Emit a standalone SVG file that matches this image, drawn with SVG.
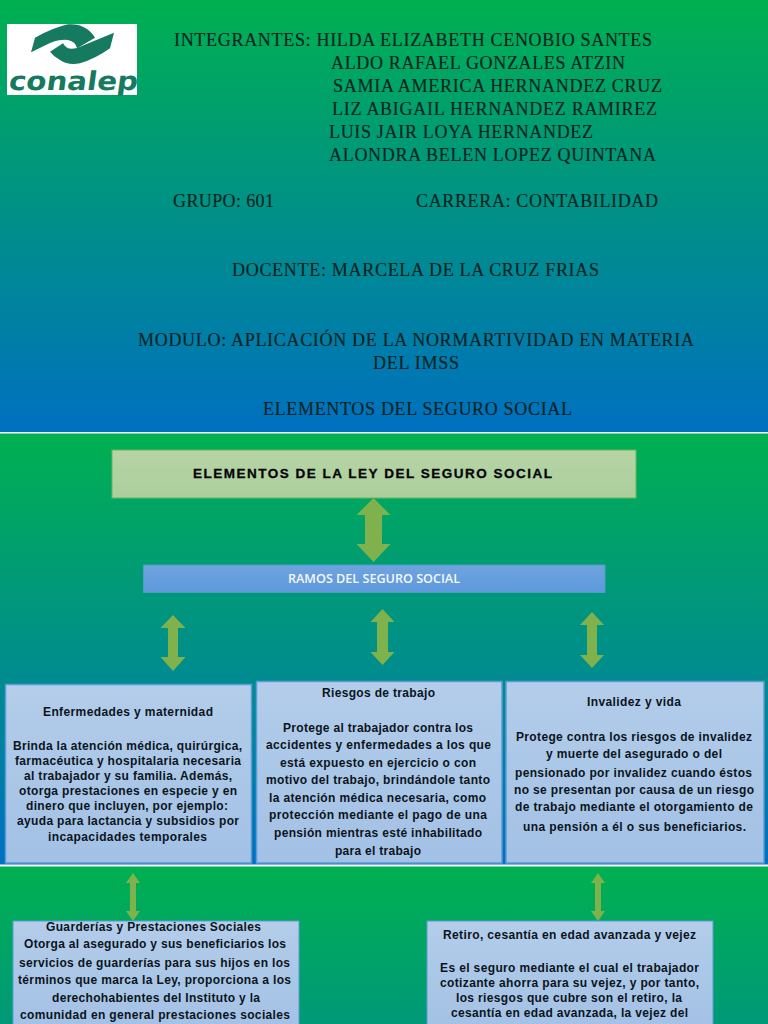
<svg xmlns="http://www.w3.org/2000/svg" width="768" height="1024" viewBox="0 0 768 1024">
<style>
.h{font-family:"Liberation Serif",serif;font-size:18px;fill:#03241f;stroke:#03241f;stroke-width:.15}
.b{font-family:"Liberation Sans",Arial,sans-serif;font-size:12px;font-weight:700;fill:#0b1420}
.box{fill:url(#boxFill);stroke:#5b9bd5;stroke-width:1.5}
.arrow{fill:#7fb24d}
</style>
<defs>
<linearGradient id="slide" x1="0" y1="0" x2="0" y2="1"><stop offset="0" stop-color="#00b050"/><stop offset="1" stop-color="#0070c0"/></linearGradient>
<linearGradient id="boxFill" x1="0" y1="0" x2="0" y2="1"><stop offset="0" stop-color="#b3cdea"/><stop offset="1" stop-color="#a3c1e5"/></linearGradient>
<linearGradient id="green" x1="0" y1="0" x2="0" y2="1"><stop offset="0" stop-color="#b7d4a6"/><stop offset="1" stop-color="#acce9c"/></linearGradient>
<linearGradient id="blue" x1="0" y1="0" x2="0" y2="1"><stop offset="0" stop-color="#6fa3de"/><stop offset="1" stop-color="#5e99dc"/></linearGradient>
</defs>
<rect width="768" height="1024" fill="#fff"/>
<rect x="0" y="0" width="768" height="432" fill="url(#slide)"/>
<rect x="0" y="433.500" width="768" height="431" fill="url(#slide)"/>
<rect x="0" y="866.500" width="768" height="432" fill="url(#slide)"/>

<g id="logo">
<rect x="7" y="24" width="130" height="71" fill="#fff"/>
<path d="M31 52.300 L35 37.700 Q52 28 68 24.300 Q86 23 95 37.700 L77 48.300 Q76 42 68 40 Q60 39 50 43Z" fill="#157a60"/>
<path d="M114 32.700 L110 48.300 Q95 59 80 63.300 Q68 65.500 60 60 Q54 57 50 51.700 L63 43.300 Q65 47 68 48.300 Q74 49.500 80 46.700Z" fill="#157a60"/>
<text transform="translate(8 90) skewX(-8)" font-family="'DejaVu Sans',sans-serif" font-size="26" font-weight="700" fill="#157a60" textLength="129" lengthAdjust="spacingAndGlyphs">conalep</text>
</g>

<g id="portada">
<text class="h" x="174" y="46" textLength="478">INTEGRANTES: HILDA ELIZABETH CENOBIO SANTES</text>
<text class="h" x="331" y="69" textLength="294">ALDO RAFAEL GONZALES ATZIN</text>
<text class="h" x="333" y="92" textLength="329">SAMIA AMERICA HERNANDEZ CRUZ</text>
<text class="h" x="332" y="115" textLength="325">LIZ ABIGAIL HERNANDEZ RAMIREZ</text>
<text class="h" x="329" y="138" textLength="264">LUIS JAIR LOYA HERNANDEZ</text>
<text class="h" x="329" y="161" textLength="327">ALONDRA BELEN LOPEZ QUINTANA</text>
<text class="h" x="173" y="207" textLength="101">GRUPO: 601</text>
<text class="h" x="416" y="207" textLength="242">CARRERA: CONTABILIDAD</text>
<text class="h" x="232" y="276" textLength="367">DOCENTE: MARCELA DE LA CRUZ FRIAS</text>
<text class="h" x="138" y="346" textLength="556">MODULO: APLICACIÓN DE LA NORMARTIVIDAD EN MATERIA</text>
<text class="h" x="373" y="369" textLength="86">DEL IMSS</text>
<text class="h" x="263" y="415" textLength="309">ELEMENTOS DEL SEGURO SOCIAL</text>
</g>

<g id="connectors">
<path class="arrow" d="M373.500 498 L390.500 515 H382 V544 H390.500 L373.500 562 L356.500 544 H365 V515 H356.500Z"/>
<path class="arrow" d="M173 615 L185.500 628 H178 V657 H185.500 L173 671 L160.500 657 H168 V628 H160.500Z"/>
<path class="arrow" d="M382.500 609 L394.500 622 H388 V652 H394.500 L382.500 665 L370.500 652 H377 V622 H370.500Z"/>
<path class="arrow" d="M592 612 L604 625 H597 V655 H604 L592 668 L580 655 H587 V625 H580Z"/>
<path class="arrow" d="M133 873 L140 883 H136 V911 H140 L133 921 L126 911 H130 V883 H126Z"/>
<path class="arrow" d="M598 873 L605 883 H601 V911 H605 L598 921 L591 911 H595 V883 H591Z"/>
</g>

<g id="titulo">
<rect x="112" y="450" width="524" height="48" fill="url(#green)" stroke="#6fb45c" stroke-width="1"/>
<text x="193" y="478" font-family="'Liberation Sans',Arial,sans-serif" font-size="13.500px" font-weight="700" fill="#050505" stroke="#050505" stroke-width=".3" textLength="359">ELEMENTOS DE LA LEY DEL SEGURO SOCIAL</text>
</g>

<g id="ramos">
<rect x="143.500" y="565" width="461.500" height="27.500" fill="url(#blue)" stroke="#4ba0bf" stroke-width="1"/>
<text x="288" y="583" font-family="'Open Sans','Noto Sans',sans-serif" font-size="12px" font-weight="600" fill="#f4f8fc" textLength="172" lengthAdjust="spacingAndGlyphs">RAMOS DEL SEGURO SOCIAL</text>
</g>

<g id="enfermedades">
<rect class="box" x="5.500" y="684.500" width="246" height="178.500"/>
<text class="b" x="43" y="716" textLength="170">Enfermedades y maternidad</text>
<text class="b" x="13" y="750" textLength="229">Brinda la atención médica, quirúrgica,</text>
<text class="b" x="15" y="765" textLength="226">farmacéutica y hospitalaria necesaria</text>
<text class="b" x="24" y="780" textLength="208">al trabajador y su familia. Además,</text>
<text class="b" x="19" y="795" textLength="218">otorga prestaciones en especie y en</text>
<text class="b" x="26" y="810" textLength="202">dinero que incluyen, por ejemplo:</text>
<text class="b" x="17" y="825" textLength="222">ayuda para lactancia y subsidios por</text>
<text class="b" x="48" y="841" textLength="159">incapacidades temporales</text>
</g>

<g id="riesgos">
<rect class="box" x="256.500" y="681.500" width="245.500" height="181.500"/>
<text class="b" x="322" y="697" textLength="113">Riesgos de trabajo</text>
<text class="b" x="283" y="732" textLength="190">Protege al trabajador contra los</text>
<text class="b" x="266" y="749" textLength="225">accidentes y enfermedades a los que</text>
<text class="b" x="280" y="767" textLength="196">está expuesto en ejercicio o con</text>
<text class="b" x="266" y="784" textLength="224">motivo del trabajo, brindándole tanto</text>
<text class="b" x="269" y="802" textLength="217">la atención médica necesaria, como</text>
<text class="b" x="269" y="819" textLength="218">protección mediante el pago de una</text>
<text class="b" x="274" y="837" textLength="208">pensión mientras esté inhabilitado</text>
<text class="b" x="335" y="855" textLength="86">para el trabajo</text>
</g>

<g id="invalidez">
<rect class="box" x="506" y="681.500" width="258" height="181.500"/>
<text class="b" x="587" y="706" textLength="94">Invalidez y vida</text>
<text class="b" x="516" y="741" textLength="236">Protege contra los riesgos de invalidez</text>
<text class="b" x="546" y="758" textLength="176">y muerte del asegurado o del</text>
<text class="b" x="515" y="777" textLength="237">pensionado por invalidez cuando éstos</text>
<text class="b" x="514" y="794" textLength="240">no se presentan por causa de un riesgo</text>
<text class="b" x="515" y="811" textLength="238">de trabajo mediante el otorgamiento de</text>
<text class="b" x="523" y="831" textLength="223">una pensión a él o sus beneficiarios.</text>
</g>

<g id="guarderias">
<rect x="13" y="921" width="286" height="110" fill="url(#boxFill)" stroke="#5b9bd5" stroke-width="1"/>
<text class="b" x="46" y="931" textLength="215">Guarderías y Prestaciones Sociales</text>
<text class="b" x="24" y="948" textLength="262">Otorga al asegurado y sus beneficiarios los</text>
<text class="b" x="19" y="967" textLength="271">servicios de guarderías para sus hijos en los</text>
<text class="b" x="18" y="984" textLength="273">términos que marca la Ley, proporciona a los</text>
<text class="b" x="52" y="1002" textLength="208">derechohabientes del Instituto y la</text>
<text class="b" x="20" y="1019" textLength="270">comunidad en general prestaciones sociales</text>
</g>

<g id="retiro">
<rect x="427" y="921" width="286" height="110" fill="url(#boxFill)" stroke="#5b9bd5" stroke-width="1"/>
<text class="b" x="443" y="939" textLength="253">Retiro, cesantía en edad avanzada y vejez</text>
<text class="b" x="440" y="972" textLength="259">Es el seguro mediante el cual el trabajador</text>
<text class="b" x="440" y="987" textLength="259">cotizante ahorra para su vejez, y por tanto,</text>
<text class="b" x="456" y="1002" textLength="226">los riesgos que cubre son el retiro, la</text>
<text class="b" x="451" y="1017" textLength="237">cesantía en edad avanzada, la vejez del</text>
</g>
</svg>
